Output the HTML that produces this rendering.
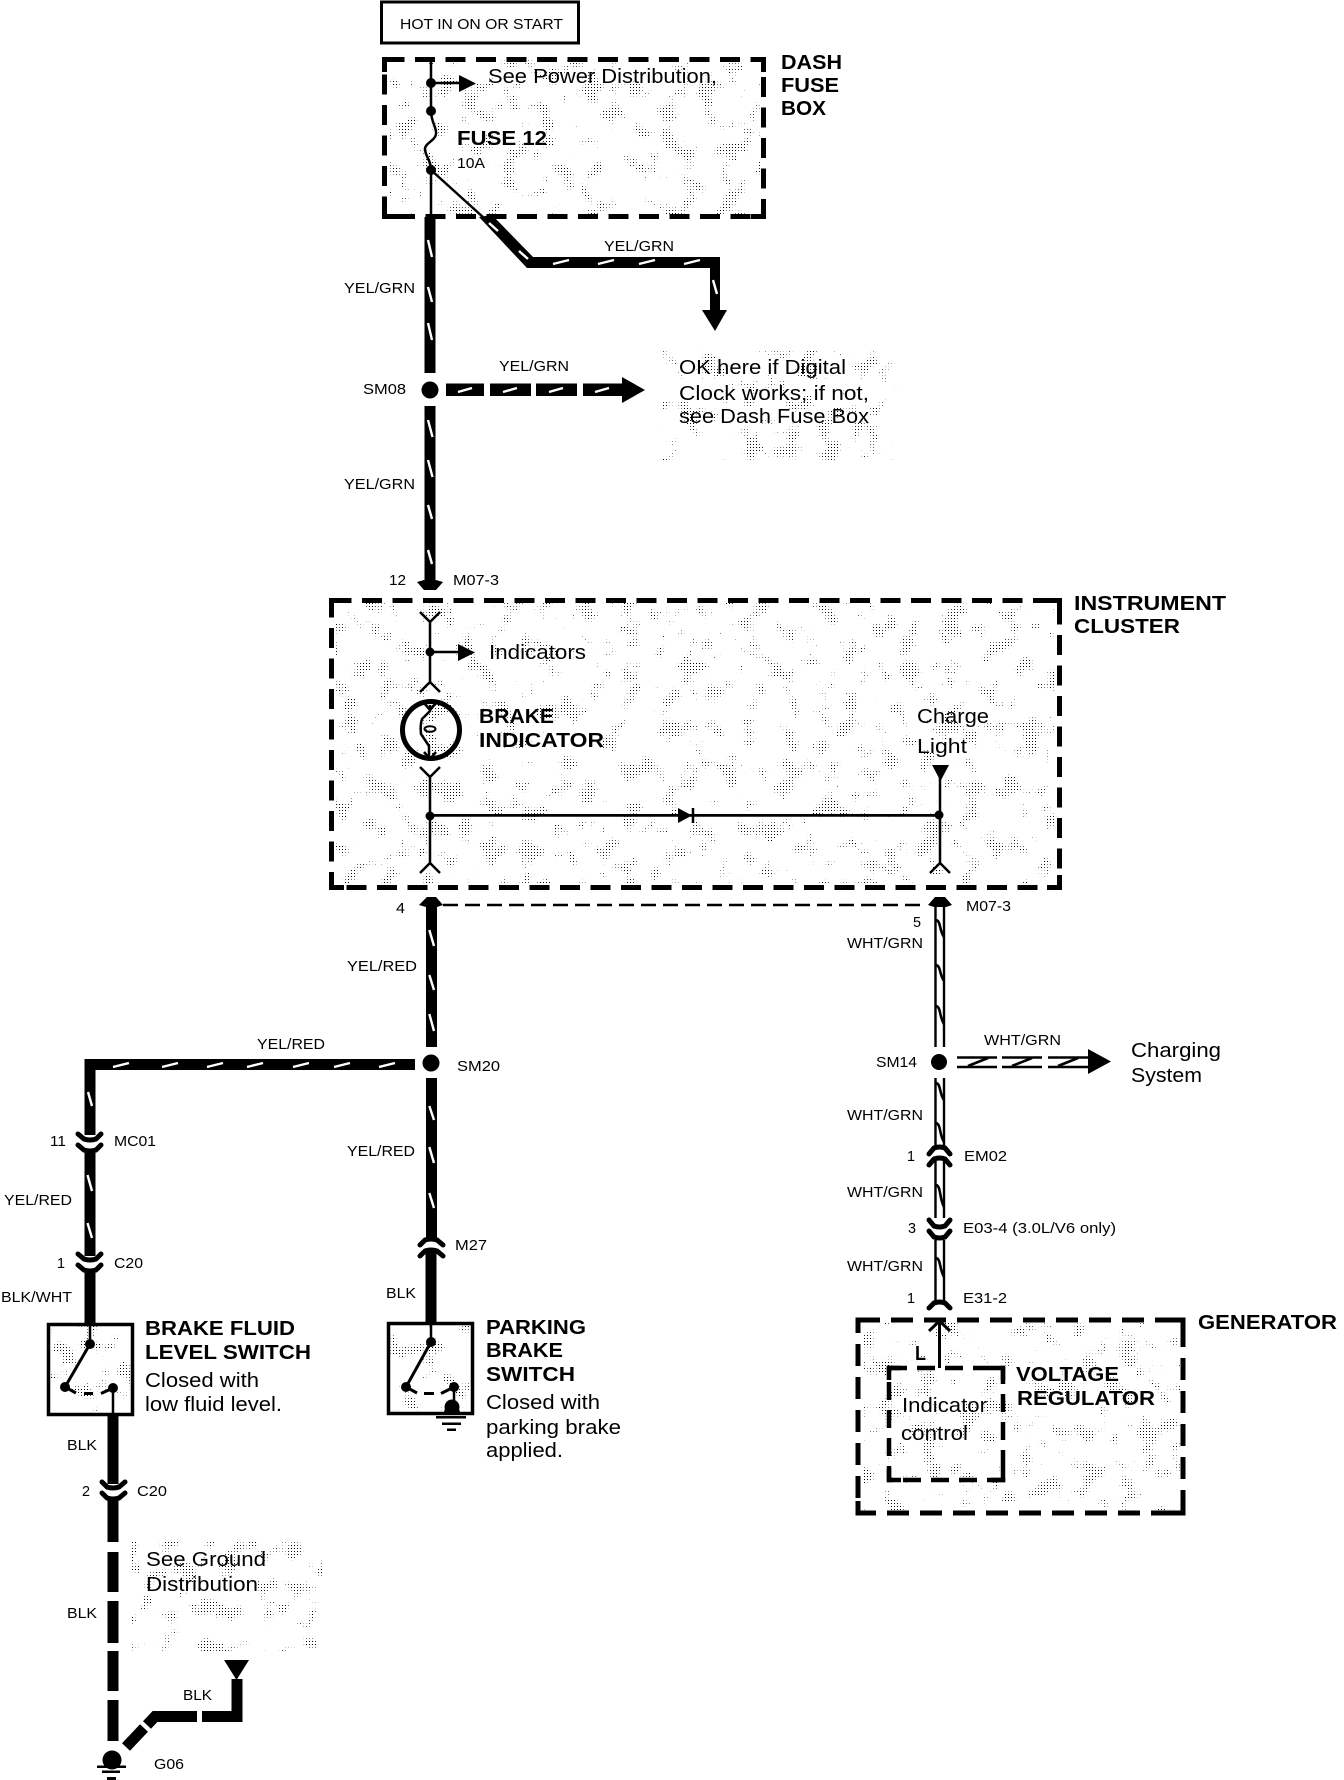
<!DOCTYPE html>
<html lang="en"><head><meta charset="utf-8"><title>Brake and charge indicator wiring diagram</title>
<style>
html,body{margin:0;padding:0;background:#fff}
svg{display:block}
text{font-family:"Liberation Sans",sans-serif;fill:#000}
.s{font-size:15px}
.m{font-size:20px}
.b{font-size:20px;font-weight:bold}
.t{stroke:#000;stroke-width:2.5;fill:none}
.w{stroke:#000;stroke-width:11;fill:none}
.st{stroke:#fff;stroke-width:2.4;fill:none}
.box{fill:none;stroke:#000;stroke-width:5}
.c{fill:none;stroke:#000;stroke-width:5;stroke-linecap:round}
.o{fill:none;stroke:#000;stroke-width:2.4}
.z{fill:none;stroke:#000;stroke-width:2.6}
</style></head><body>
<svg width="1344" height="1780" viewBox="0 0 1344 1780" xmlns="http://www.w3.org/2000/svg">
<defs>
<pattern id="dots" width="3" height="3" patternUnits="userSpaceOnUse"><rect width="1" height="1" fill="#000" shape-rendering="crispEdges"/></pattern>
<filter id="noise" filterUnits="userSpaceOnUse" x="0" y="0" width="1344" height="1780" color-interpolation-filters="sRGB">
<feTurbulence type="fractalNoise" baseFrequency="0.05" numOctaves="4" seed="7"/>
<feColorMatrix type="matrix" values="0 0 0 0 1  0 0 0 0 1  0 0 0 0 1  9 0 0 0 -5.2"/>
</filter>
<mask id="m" maskUnits="userSpaceOnUse" x="0" y="0" width="1344" height="1780"><rect x="0" y="0" width="1344" height="1780" fill="#fff" filter="url(#noise)"/></mask>
</defs>
<rect width="1344" height="1780" fill="#fff"/>

<!-- stipple -->
<g fill="url(#dots)" mask="url(#m)">
<rect x="388" y="60" width="373" height="154"/>
<rect x="663" y="350" width="237" height="110"/>
<rect x="335" y="602" width="721" height="283"/>
<rect x="862" y="1322" width="320" height="188"/>
<rect x="130" y="1540" width="192" height="112"/>
<rect x="50" y="1326" width="80" height="86"/>
<rect x="390" y="1325" width="80" height="86"/>
</g>

<!-- top box -->
<rect x="381.5" y="2" width="197" height="41" fill="none" stroke="#000" stroke-width="3"/>
<text class="s" x="400" y="29" textLength="163" lengthAdjust="spacingAndGlyphs">HOT IN ON OR START</text>

<!-- dashed boxes -->
<g class="box" stroke-dasharray="20 10.5">
<rect x="384.5" y="59.5" width="379" height="157"/>
<rect x="331.5" y="600.5" width="728" height="287"/>
<rect x="858" y="1320" width="325" height="193" stroke-dasharray="22 11"/>
<rect x="889" y="1368" width="114" height="112" stroke-width="4.5" stroke-dasharray="18 10"/>
</g>
<g fill="none" stroke="#000" stroke-width="5">
<path d="M384.500 72V59.500H397M751 59.500H763.500V72M384.500 205V216.500H397M751 216.500H763.500V205"/>
<path d="M331.500 613V600.500H344M1047 600.500H1059.500V613M331.500 875V887.500H344M1047 887.500H1059.500V875"/>
<path d="M858 1332V1320H870M1171 1320H1183V1332M858 1501V1513H870M1171 1513H1183V1501"/>
<path d="M889 1380V1368H901M991 1368H1003V1380M889 1468V1480H901M991 1480H1003V1468" stroke-width="4.5"/>
</g>

<!-- dash fuse box internals -->
<path class="t" d="M431 57V111C431 122 437 128 436 134C435 141 425 143 425 149C425 156 431 160 431 170V217"/>
<circle cx="431" cy="83" r="5"/><circle cx="431" cy="111" r="5"/><circle cx="431" cy="170" r="5"/>
<path class="t" d="M431 83H460"/><path d="M459 75L476 83.500L459 92Z"/>
<path class="t" d="M431 170L484 218"/>
<text class="m" x="488" y="83" textLength="229" lengthAdjust="spacingAndGlyphs">See Power Distribution,</text>
<text class="b" x="457" y="145" textLength="90" lengthAdjust="spacingAndGlyphs">FUSE 12</text>
<text class="s" x="457" y="168" textLength="28" lengthAdjust="spacingAndGlyphs">10A</text>
<text class="b" x="781" y="69" textLength="61" lengthAdjust="spacingAndGlyphs">DASH</text>
<text class="b" x="781" y="92" textLength="58" lengthAdjust="spacingAndGlyphs">FUSE</text>
<text class="b" x="781" y="115" textLength="45" lengthAdjust="spacingAndGlyphs">BOX</text>

<!-- main wire upper -->
<path class="w" d="M430 217V373"/>
<path class="w" d="M430 406V586"/>
<path d="M417 582L424 580L430 584L436 580L443 582L436 590H424Z"/>
<g class="st">
<path d="M428 240L432 257M428 287L432 302M428 323L432 340M428 420L432.500 437M428 460L432.500 477M428 505L432 519M428 550L432 564"/>
</g>
<circle cx="430" cy="390" r="8.500"/>
<path d="M479 217L492 215L533 257H720V310H710V268H527Z"/>
<path d="M702 310H727L715 331Z"/>
<g class="st">
<path d="M489 223L498 231M519 251L528 259M553 264L569 260M598 264L614 260M639 264L655 260M684 264L700 260M713 280L717 294"/>
</g>
<!-- horizontal to OK -->
<path d="M446 383.500H484V396H446ZM490 383.500H531V396H490ZM536 383.500H577V396H536ZM583 383.500H622V396H583Z"/>
<path d="M622 377L645 390L622 403Z"/>
<g class="st"><path d="M458 392L472 388M503 392L517 388M549 392L563 388M595 392L609 388"/></g>

<text class="s" x="604" y="251" textLength="70" lengthAdjust="spacingAndGlyphs">YEL/GRN</text>
<text class="s" x="344" y="293" textLength="71" lengthAdjust="spacingAndGlyphs">YEL/GRN</text>
<text class="s" x="499" y="371" textLength="70" lengthAdjust="spacingAndGlyphs">YEL/GRN</text>
<text class="s" x="363" y="394" textLength="43" lengthAdjust="spacingAndGlyphs">SM08</text>
<text class="s" x="344" y="489" textLength="71" lengthAdjust="spacingAndGlyphs">YEL/GRN</text>
<text class="m" x="679" y="374" textLength="167" lengthAdjust="spacingAndGlyphs">OK here if Digital</text>
<text class="m" x="679" y="400" textLength="190" lengthAdjust="spacingAndGlyphs">Clock works; if not,</text>
<text class="m" x="679" y="423" textLength="190" lengthAdjust="spacingAndGlyphs">see Dash Fuse Box</text>

<text class="s" x="389" y="585" textLength="17" lengthAdjust="spacingAndGlyphs">12</text>
<text class="s" x="453" y="585" textLength="46" lengthAdjust="spacingAndGlyphs">M07-3</text>

<!-- cluster internals -->
<path class="t" d="M430 622V682M420 612L430 622L440 612M420 692L430 682L440 692"/>
<circle cx="430" cy="652" r="4.500"/>
<path class="t" d="M430 652H459"/><path d="M458 644L475 652.500L458 661Z"/>
<circle cx="431" cy="730" r="28.500" fill="none" stroke="#000" stroke-width="5"/>
<path fill="none" stroke="#000" stroke-width="2.500" d="M430 705V711L422 719Q420 725 421 734L429 746V759M424 703L430 710L436 703M424 752L430 759L436 752"/>
<ellipse cx="430" cy="729" rx="5.500" ry="2.800" fill="none" stroke="#000" stroke-width="2"/>
<path class="t" d="M430 777V863M420 767L430 777L440 767M420 873L430 863L440 873"/>
<circle cx="430" cy="816" r="4.500"/>
<path d="M430 814H939V816.800H430Z"/>
<path d="M678 808L692 815.500L678 823Z"/><path class="t" d="M693 808V823"/>
<circle cx="939" cy="815" r="4.500"/>
<path d="M932 765H949L940.500 781Z"/>
<path class="t" d="M940 775V863M930 873L940 863L950 873"/>
<text class="m" x="489" y="659" textLength="97" lengthAdjust="spacingAndGlyphs">Indicators</text>
<text class="b" x="479" y="723" textLength="75" lengthAdjust="spacingAndGlyphs">BRAKE</text>
<text class="b" x="479" y="747" textLength="125" lengthAdjust="spacingAndGlyphs">INDICATOR</text>
<text class="m" x="917" y="723" textLength="72" lengthAdjust="spacingAndGlyphs">Charge</text>
<text class="m" x="917" y="753" textLength="50" lengthAdjust="spacingAndGlyphs">Light</text>
<text class="b" x="1074" y="610" textLength="152" lengthAdjust="spacingAndGlyphs">INSTRUMENT</text>
<text class="b" x="1074" y="633" textLength="106" lengthAdjust="spacingAndGlyphs">CLUSTER</text>

<!-- below cluster -->
<path class="t" d="M443 905H926" stroke-dasharray="15 7"/>
<path class="w" d="M431.500 900V1047"/>
<path d="M419 905L427 897H436L443 905L437 907H426Z"/>
<g class="st"><path d="M429.300 930L434 946M429.300 975L434 990M429.300 1014L434 1031"/></g>
<circle cx="431" cy="1063" r="8.500"/>
<path class="w" d="M431.500 1078V1240"/>
<g class="st"><path d="M429.300 1106L434 1120M429.300 1147L434 1163M429.300 1193L434 1208"/></g>
<text class="s" x="396" y="913" textLength="9" lengthAdjust="spacingAndGlyphs">4</text>
<text class="s" x="347" y="971" textLength="70" lengthAdjust="spacingAndGlyphs">YEL/RED</text>
<text class="s" x="457" y="1071" textLength="43" lengthAdjust="spacingAndGlyphs">SM20</text>
<text class="s" x="257" y="1049" textLength="68" lengthAdjust="spacingAndGlyphs">YEL/RED</text>
<text class="s" x="347" y="1156" textLength="68" lengthAdjust="spacingAndGlyphs">YEL/RED</text>

<!-- left branch -->
<path class="w" d="M415 1064.500H90V1135"/>
<g class="st"><path d="M113 1067L129 1063M162 1067L178 1063M207 1067L223 1063M247 1067L263 1063M293 1067L309 1063M334 1067L350 1063M379 1067L395 1063M88 1092L92 1106"/></g>
<path class="c" d="M78 1134L84 1139Q90 1141 96 1139L101 1134"/>
<path class="c" d="M78 1145L84 1150Q90 1152 96 1150L101 1145"/>
<path class="w" d="M90 1150V1256"/>
<g class="st"><path d="M87.500 1175L92 1191M87.500 1223L92 1238"/></g>
<path class="c" d="M78 1254L84 1259Q90 1261 96 1259L101 1254"/>
<path class="c" d="M78 1265L84 1270Q90 1272 96 1270L101 1265"/>
<path class="w" d="M90 1270V1323"/>
<text class="s" x="50" y="1146" textLength="16" lengthAdjust="spacingAndGlyphs">11</text>
<text class="s" x="114" y="1146" textLength="42" lengthAdjust="spacingAndGlyphs">MC01</text>
<text class="s" x="4" y="1205" textLength="68" lengthAdjust="spacingAndGlyphs">YEL/RED</text>
<text class="s" x="57" y="1268" textLength="8" lengthAdjust="spacingAndGlyphs">1</text>
<text class="s" x="114" y="1268" textLength="29" lengthAdjust="spacingAndGlyphs">C20</text>
<text class="s" x="1" y="1302" textLength="71" lengthAdjust="spacingAndGlyphs">BLK/WHT</text>

<!-- switch 1 -->
<rect x="48.500" y="1324.500" width="84" height="90" fill="none" stroke="#000" stroke-width="3.500"/>
<path class="t" d="M90 1326V1344M113 1388V1415"/>
<path fill="none" stroke="#000" stroke-width="3" d="M90 1344L65 1387L76 1393M84 1393.500H93M101 1393.500L113 1388"/>
<circle cx="90" cy="1344" r="5"/><circle cx="65" cy="1387" r="5"/><circle cx="113" cy="1388" r="5"/>
<text class="b" x="145" y="1335" textLength="150" lengthAdjust="spacingAndGlyphs">BRAKE FLUID</text>
<text class="b" x="145" y="1359" textLength="166" lengthAdjust="spacingAndGlyphs">LEVEL SWITCH</text>
<text class="m" x="145" y="1387" textLength="114" lengthAdjust="spacingAndGlyphs">Closed with</text>
<text class="m" x="145" y="1411" textLength="137" lengthAdjust="spacingAndGlyphs">low fluid level.</text>

<!-- lower BLK wire -->
<path class="w" d="M113 1415V1484"/>
<path class="c" d="M102 1482L107 1487Q113 1489 119 1487L125 1482"/>
<path class="c" d="M102 1493L107 1498Q113 1500 119 1498L125 1493"/>
<path class="w" d="M113 1498V1542M113 1552V1592M113 1601V1643M113 1651V1691M113 1700V1741"/>
<circle cx="112" cy="1760" r="9.500"/>
<path d="M97 1765.500H126V1768H97ZM102 1770.500H120V1773H102ZM107 1777H116V1780H107Z"/>
<path class="w" d="M126 1747L144 1728"/>
<path class="w" d="M147 1725L155 1716.500H197"/>
<path class="w" d="M202 1716.500H237V1679"/>
<path d="M224 1660H249L236.500 1680Z"/>
<text class="s" x="67" y="1450" textLength="30" lengthAdjust="spacingAndGlyphs">BLK</text>
<text class="s" x="82" y="1496" textLength="8" lengthAdjust="spacingAndGlyphs">2</text>
<text class="s" x="137" y="1496" textLength="30" lengthAdjust="spacingAndGlyphs">C20</text>
<text class="s" x="67" y="1618" textLength="30" lengthAdjust="spacingAndGlyphs">BLK</text>
<text class="s" x="183" y="1700" textLength="29" lengthAdjust="spacingAndGlyphs">BLK</text>
<text class="s" x="154" y="1769" textLength="30" lengthAdjust="spacingAndGlyphs">G06</text>
<text class="m" x="146" y="1566" textLength="120" lengthAdjust="spacingAndGlyphs">See Ground</text>
<text class="m" x="146" y="1591" textLength="112" lengthAdjust="spacingAndGlyphs">Distribution</text>

<!-- parking brake branch -->
<path class="c" d="M420 1245L425 1240Q431 1238 437 1240L443 1245"/>
<path class="c" d="M420 1256L425 1251Q431 1249 437 1251L443 1256"/>
<path class="w" d="M431 1250V1322"/>
<rect x="388.500" y="1323.500" width="84" height="90" fill="none" stroke="#000" stroke-width="3.500"/>
<path class="t" d="M431 1325V1342M454 1387V1408"/>
<path fill="none" stroke="#000" stroke-width="3" d="M431 1342L406 1387L417 1393M424 1393.500H434M441 1393.500L454 1387"/>
<circle cx="431" cy="1342" r="5"/><circle cx="406" cy="1387" r="5"/><circle cx="454" cy="1387" r="5"/>
<path d="M444 1413A8 8 0 0 1 460 1413Z"/>
<circle cx="452" cy="1407" r="7.500"/>
<path d="M436 1416H466V1418.500H436ZM442 1422.500H461V1425H442ZM447 1428.500H456V1431H447Z"/>
<text class="s" x="455" y="1250" textLength="32" lengthAdjust="spacingAndGlyphs">M27</text>
<text class="s" x="386" y="1298" textLength="30" lengthAdjust="spacingAndGlyphs">BLK</text>
<text class="b" x="486" y="1334" textLength="100" lengthAdjust="spacingAndGlyphs">PARKING</text>
<text class="b" x="486" y="1357" textLength="77" lengthAdjust="spacingAndGlyphs">BRAKE</text>
<text class="b" x="486" y="1381" textLength="89" lengthAdjust="spacingAndGlyphs">SWITCH</text>
<text class="m" x="486" y="1409" textLength="114" lengthAdjust="spacingAndGlyphs">Closed with</text>
<text class="m" x="486" y="1434" textLength="135" lengthAdjust="spacingAndGlyphs">parking brake</text>
<text class="m" x="486" y="1457" textLength="77" lengthAdjust="spacingAndGlyphs">applied.</text>

<!-- right wire -->
<g class="o">
<path d="M935.500 902V1047M944 902V1047M935.500 1078V1146M944 1078V1146M935.500 1160V1218M944 1160V1218M935.500 1240V1305M944 1240V1305"/>
</g>
<g class="z">
<path d="M936 920C941 921 939 930 944 937M936 965C941 966 939 974 944 981M936 1006C941 1007 939 1016 944 1024M936 1083C941 1084 939 1093 944 1100M936 1123C941 1124 939 1134 944 1142M936 1185C941 1186 939 1197 944 1207M936 1258C941 1259 939 1268 944 1277"/>
</g>
<path d="M928 905L935 897H945L952 905L946 907H934Z"/>
<circle cx="939" cy="1062" r="8"/>
<path class="c" d="M929 1154L934 1148Q939.500 1146 945 1148L950 1154"/>
<path class="c" d="M929 1165L934 1159Q939.500 1157 945 1159L950 1165"/>
<path class="c" d="M929 1220L934 1226Q939.500 1228 945 1226L950 1220"/>
<path class="c" d="M929 1231L934 1237Q939.500 1239 945 1237L950 1231"/>
<path class="c" d="M929 1308L934 1303Q939.500 1301 945 1303L950 1308"/>
<!-- horizontal double wire -->
<g class="o">
<path d="M957 1057.500H997M957 1067H997M1002 1057.500H1042M1002 1067H1042M1048 1057.500H1088M1048 1067H1088"/>
</g>
<g class="z"><path d="M968 1066L988 1058M1012 1066L1032 1058M1058 1066L1078 1058"/></g>
<path d="M1088 1049L1111 1061.500L1088 1074Z"/>
<text class="s" x="966" y="911" textLength="45" lengthAdjust="spacingAndGlyphs">M07-3</text>
<text class="s" x="913" y="927" textLength="8" lengthAdjust="spacingAndGlyphs">5</text>
<text class="s" x="847" y="948" textLength="76" lengthAdjust="spacingAndGlyphs">WHT/GRN</text>
<text class="s" x="984" y="1045" textLength="77" lengthAdjust="spacingAndGlyphs">WHT/GRN</text>
<text class="s" x="876" y="1067" textLength="41" lengthAdjust="spacingAndGlyphs">SM14</text>
<text class="m" x="1131" y="1057" textLength="90" lengthAdjust="spacingAndGlyphs">Charging</text>
<text class="m" x="1131" y="1082" textLength="71" lengthAdjust="spacingAndGlyphs">System</text>
<text class="s" x="847" y="1120" textLength="76" lengthAdjust="spacingAndGlyphs">WHT/GRN</text>
<text class="s" x="907" y="1161" textLength="8" lengthAdjust="spacingAndGlyphs">1</text>
<text class="s" x="964" y="1161" textLength="43" lengthAdjust="spacingAndGlyphs">EM02</text>
<text class="s" x="847" y="1197" textLength="76" lengthAdjust="spacingAndGlyphs">WHT/GRN</text>
<text class="s" x="908" y="1233" textLength="8" lengthAdjust="spacingAndGlyphs">3</text>
<text class="s" x="963" y="1233" textLength="153" lengthAdjust="spacingAndGlyphs">E03-4 (3.0L/V6 only)</text>
<text class="s" x="847" y="1271" textLength="76" lengthAdjust="spacingAndGlyphs">WHT/GRN</text>
<text class="s" x="907" y="1303" textLength="8" lengthAdjust="spacingAndGlyphs">1</text>
<text class="s" x="963" y="1303" textLength="44" lengthAdjust="spacingAndGlyphs">E31-2</text>

<!-- generator -->
<path fill="none" stroke="#000" stroke-width="3" d="M939.500 1368V1321M929 1331L939.500 1321L950 1331"/>
<text class="b" x="1198" y="1329" textLength="139" lengthAdjust="spacingAndGlyphs">GENERATOR</text>
<text class="b" x="915" y="1360" textLength="11" lengthAdjust="spacingAndGlyphs">L</text>
<text class="b" x="1016" y="1381" textLength="103" lengthAdjust="spacingAndGlyphs">VOLTAGE</text>
<text class="b" x="1017" y="1405" textLength="138" lengthAdjust="spacingAndGlyphs">REGULATOR</text>
<text class="m" x="902" y="1412" textLength="85" lengthAdjust="spacingAndGlyphs">Indicator</text>
<text class="m" x="901" y="1440" textLength="67" lengthAdjust="spacingAndGlyphs">control</text>
</svg>
</body></html>
